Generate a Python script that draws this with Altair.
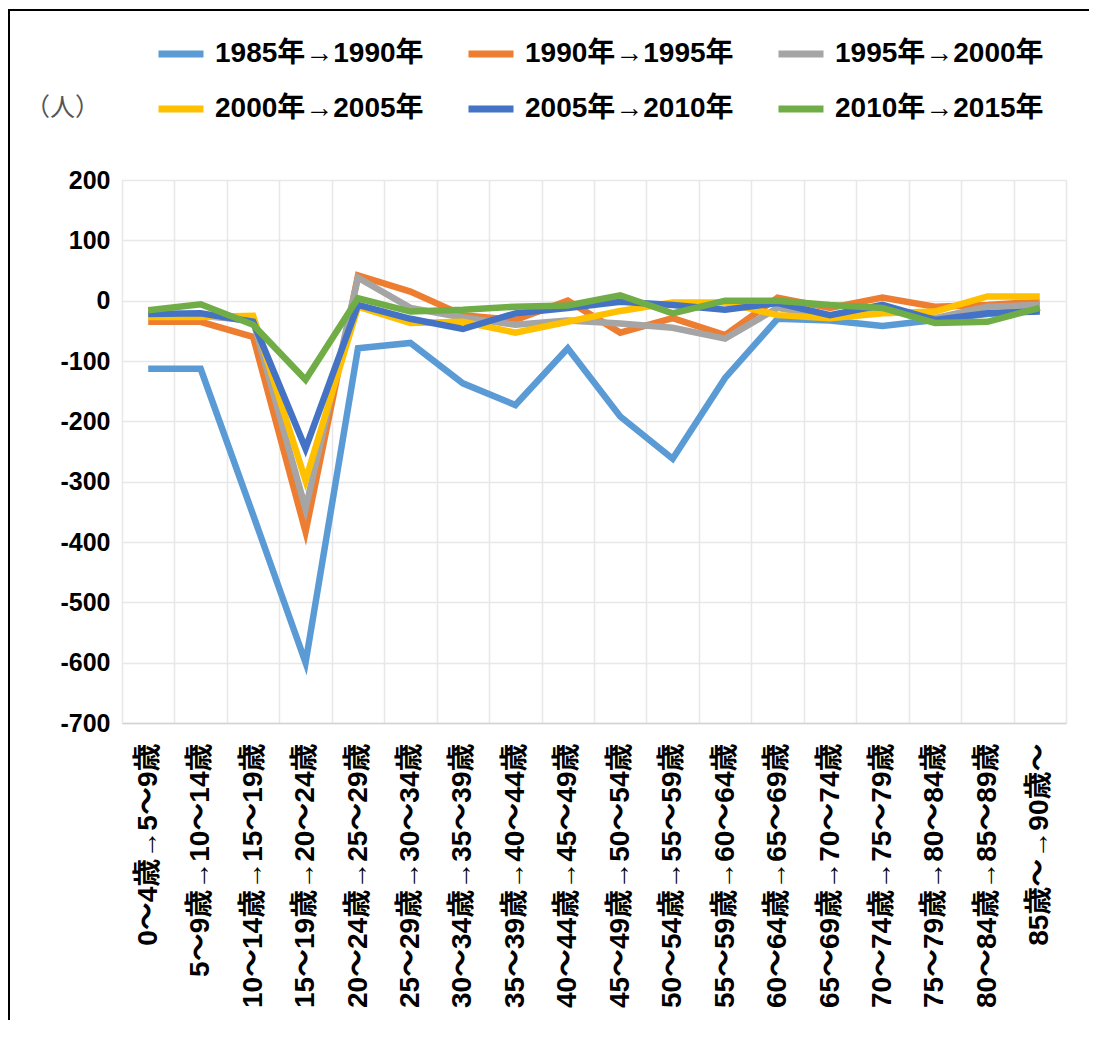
import altair as alt
import pandas as pd

categories = [
    "0～4歳→5～9歳", "5～9歳→10～14歳", "10～14歳→15～19歳", "15～19歳→20～24歳",
    "20～24歳→25～29歳", "25～29歳→30～34歳", "30～34歳→35～39歳", "35～39歳→40～44歳",
    "40～44歳→45～49歳", "45～49歳→50～54歳", "50～54歳→55～59歳", "55～59歳→60～64歳",
    "60～64歳→65～69歳", "65～69歳→70～74歳", "70～74歳→75～79歳", "75～79歳→80～84歳",
    "80～84歳→85～89歳", "85歳～→90歳～",
]

series = ["1985年→1990年", "1990年→1995年", "1995年→2000年",
          "2000年→2005年", "2005年→2010年", "2010年→2015年"]
colors = ["#5B9BD5", "#ED7D31", "#A5A5A5", "#FFC000", "#4472C4", "#70AD47"]

v1985 = [-113, -113, -355, -600, -79, -70, -137, -173, -79, -192, -262, -128, -30, -33, -42, -32, -22, -15]
v1990 = [-35, -35, -60, -383, 42, 15, -24, -32, 0, -53, -29, -57, 5, -12, 5, -10, -7, -2]
v1995 = [-22, -25, -33, -345, 38, -12, -28, -40, -33, -38, -45, -63, -12, -27, -10, -29, -10, -7]
v2000 = [-27, -27, -25, -298, -10, -37, -35, -53, -35, -17, -3, -3, -24, -29, -21, -18, 7, 7]
v2005 = [-22, -21, -35, -245, -7, -30, -47, -21, -12, -2, -7, -15, -4, -24, -7, -32, -21, -18]
v2010 = [-16, -6, -40, -131, 4, -18, -15, -10, -8, 9, -21, 0, 0, -7, -12, -37, -35, -12]
values = [v1985, v1990, v1995, v2000, v2005, v2010]

y_ticks = [200, 100, 0, -100, -200, -300, -400, -500, -600, -700]

rows = []
for s, vals in zip(series, values):
    for i, (c, v) in enumerate(zip(categories, vals)):
        rows.append({"age": c, "series": s, "value": v, "idx": i})
df = pd.DataFrame(rows)

FONT = "Liberation Sans, Noto Sans CJK JP, sans-serif"
W, H = 944, 543
PAD = {"left": 114, "top": 172, "right": 23, "bottom": 297}

lines = alt.Chart(df).mark_line(strokeWidth=6.5, strokeJoin="miter", strokeMiterLimit=12).encode(
    x=alt.X(
        "age:N", sort=categories, bandPosition=0.5,
        scale=alt.Scale(type="band", paddingInner=0, paddingOuter=0),
        axis=alt.Axis(
            title=None, tickBand="extent", grid=True, ticks=False,
            gridColor="#e8e8e8", gridWidth=1.5,
            domain=True, domainColor="#d4d4d4", domainWidth=1.5,
            labelAngle=270, labelFont=FONT, labelFontSize=28, labelFontWeight="bold",
            labelColor="black", labelPadding=20, labelLimit=500, labelOverlap=False,
        ),
    ),
    y=alt.Y(
        "value:Q",
        scale=alt.Scale(domain=[-700, 200], nice=False, zero=False),
        axis=alt.Axis(
            values=y_ticks, grid=True, ticks=False, domain=False,
            gridColor="#e8e8e8", gridWidth=1.5,
            labelFont=FONT, labelFontSize=25, labelFontWeight="bold", labelColor="black",
            labelPadding=12, labelExpr="datum.value + ''",
            title="（人）", titleAngle=0, titleX=-60, titleY=-73,
            titleAlign="center", titleBaseline="middle",
            titleFont=FONT, titleFontSize=25, titleFontWeight="normal", titleColor="#555555",
        ),
    ),
    color=alt.Color(
        "series:N", sort=series,
        scale=alt.Scale(domain=series, range=colors),
        legend=alt.Legend(
            title=None, orient="none", legendX=33, legendY=-152, columns=3,
            direction="horizontal",
            symbolType="stroke", symbolSize=2025, symbolStrokeWidth=7,
            labelFont=FONT, labelFontSize=28, labelFontWeight="bold", labelColor="black",
            labelLimit=500, labelOffset=8, columnPadding=30, rowPadding=15,
        ),
    ),
    order=alt.Order("idx:Q"),
)

frame_df = pd.DataFrame({"k": [0]})
frame_left = alt.Chart(frame_df).mark_rule(color="black", strokeWidth=2).encode(
    x=alt.value(-113), y=alt.value(-170), y2=alt.value(H + PAD["bottom"])
)
frame_top = alt.Chart(frame_df).mark_rule(color="black", strokeWidth=2).encode(
    x=alt.value(-114), x2=alt.value(W + PAD["right"]), y=alt.value(-170)
)

chart = alt.layer(lines, frame_left, frame_top).properties(
    width=W, height=H,
    autosize=alt.AutoSizeParams(type="none"),
    padding=PAD,
).configure_view(stroke=None).configure(background="white")

chart.save("out.html", embed_options={"renderer": "svg", "actions": False})
